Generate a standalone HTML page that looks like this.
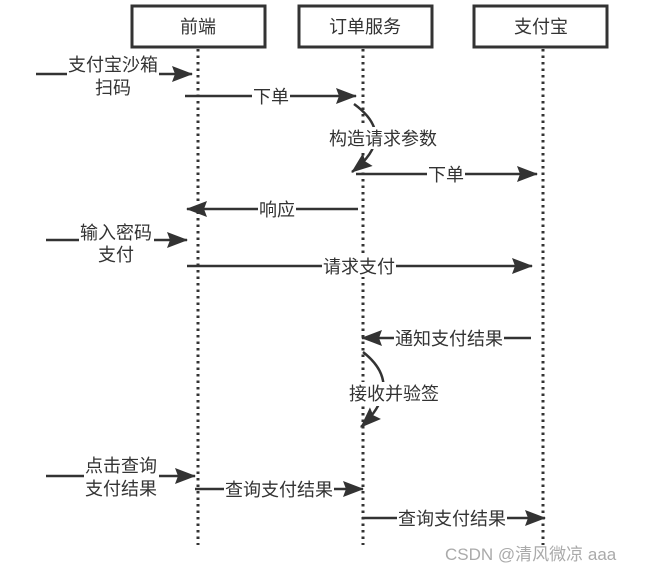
<!DOCTYPE html>
<html><head><meta charset="utf-8"><style>
html,body{margin:0;padding:0;background:#fff;}
svg text{font-family:"Liberation Sans","Noto Sans CJK SC",sans-serif;font-size:18px;fill:#333;}
</style></head><body>
<svg width="652" height="571" viewBox="0 0 652 571" xmlns="http://www.w3.org/2000/svg">
<defs>
<marker id="a" markerWidth="22" markerHeight="16" refX="20" refY="8" orient="auto" markerUnits="userSpaceOnUse">
<path d="M0,0 L21,8 L0,16 L3,8 Z" fill="#333"/>
</marker>
</defs>
<g fill="#fff" stroke="#333" stroke-width="3">
<rect x="132" y="6" width="133" height="41"/>
<rect x="299" y="6" width="133" height="41"/>
<rect x="474" y="6" width="133" height="41"/>
</g>
<g text-anchor="middle">
<text x="198" y="33">前端</text>
<text x="365" y="33">订单服务</text>
<text x="541" y="33">支付宝</text>
</g>
<g stroke="#333" stroke-width="3" stroke-dasharray="2.5,4">
<line x1="198" y1="49" x2="198" y2="545"/>
<line x1="363" y1="49" x2="363" y2="545"/>
<line x1="543" y1="49" x2="543" y2="545"/>
</g>
<g stroke="#333" stroke-width="2.5" fill="none" marker-end="url(#a)">
<line x1="36" y1="74" x2="192" y2="74"/>
<line x1="185" y1="96" x2="356" y2="96"/>
<path d="M354,104 Q398,136 352,172"/>
<line x1="356" y1="174" x2="537" y2="174"/>
<line x1="358" y1="209" x2="187" y2="209"/>
<line x1="46" y1="240" x2="187" y2="240"/>
<line x1="187" y1="266" x2="532" y2="266"/>
<line x1="531" y1="338" x2="362" y2="338"/>
<path d="M363,352 Q405,385 361,427"/>
<line x1="46" y1="476" x2="195" y2="476"/>
<line x1="195" y1="489" x2="363" y2="489"/>
<line x1="362" y1="518" x2="545" y2="518"/>
</g>
<g fill="#fff">
<rect x="67" y="54" width="92" height="44"/>
<rect x="252" y="85" width="38" height="22"/>
<rect x="327" y="127" width="112" height="22"/>
<rect x="427" y="163" width="38" height="22"/>
<rect x="258" y="198" width="38" height="22"/>
<rect x="79" y="221" width="75" height="44"/>
<rect x="322" y="255" width="74" height="22"/>
<rect x="394" y="327" width="110" height="22"/>
<rect x="348" y="382" width="92" height="24"/>
<rect x="84" y="455" width="75" height="44"/>
<rect x="224" y="478" width="110" height="22"/>
<rect x="397" y="507" width="110" height="22"/>
</g>
<g text-anchor="middle">
<text x="113" y="71">支付宝沙箱</text>
<text x="113" y="94">扫码</text>
<text x="271" y="103">下单</text>
<text x="383" y="145">构造请求参数</text>
<text x="446" y="181">下单</text>
<text x="277" y="216">响应</text>
<text x="116" y="239">输入密码</text>
<text x="116" y="261">支付</text>
<text x="359" y="273">请求支付</text>
<text x="449" y="345">通知支付结果</text>
<text x="394" y="400">接收并验签</text>
<text x="121" y="472">点击查询</text>
<text x="121" y="495">支付结果</text>
<text x="279" y="496">查询支付结果</text>
<text x="452" y="525">查询支付结果</text>
</g>
<text x="445" y="560" style="fill:#aaa;font-size:17px;">CSDN @清风微凉 aaa</text>
</svg>
</body></html>
